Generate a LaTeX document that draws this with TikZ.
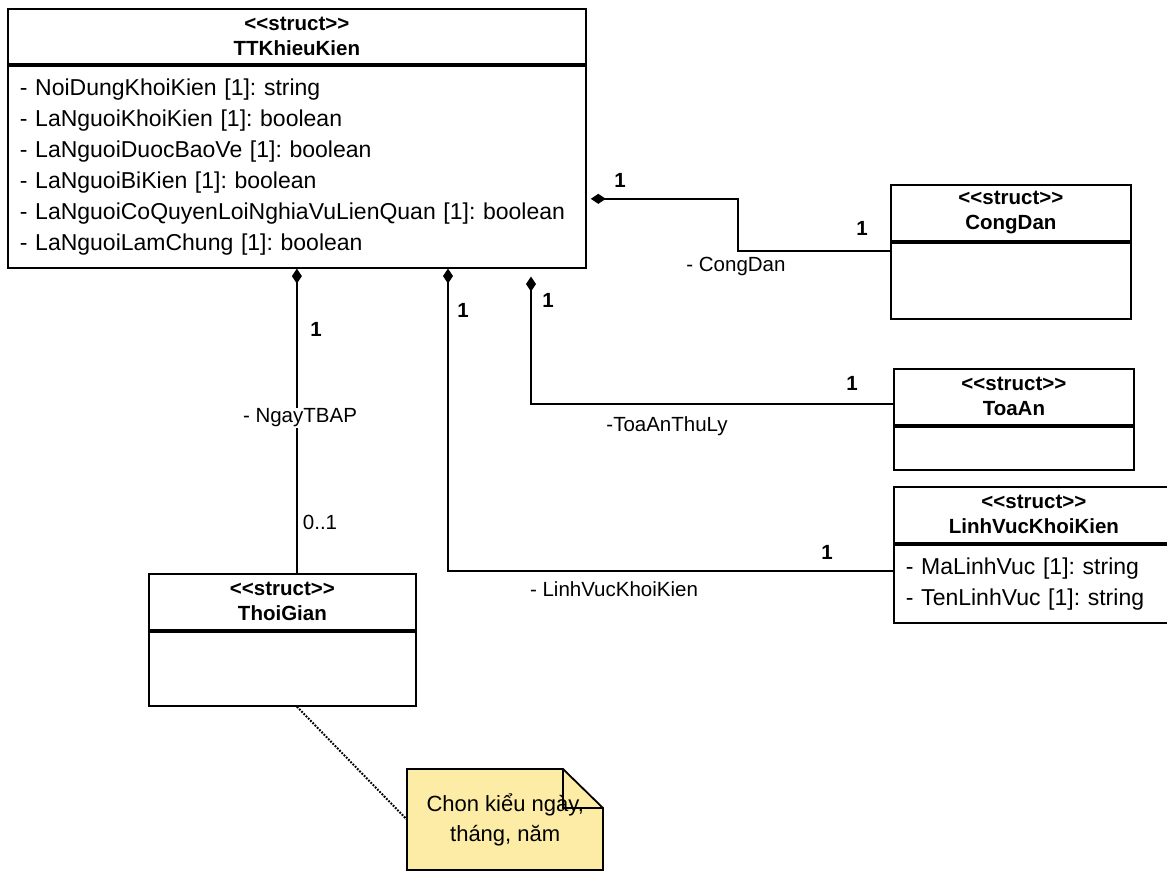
\documentclass[tikz,border=0pt]{standalone}
\usepackage{fontspec}
\setmainfont{Liberation Sans}
\usetikzlibrary{arrows.meta,positioning}
\definecolor{notecol}{RGB}{253,236,166}
\newcommand{\stname}{<{}<struct>{}>}
\frenchspacing

\begin{document}
\begin{tikzpicture}[x=1pt,y=-1pt,
            every node/.style={font=\fontsize{20.5}{25}\selectfont},
            head/.style={draw,line width=1.8pt,anchor=north west,align=center,inner sep=0pt,
              minimum height=56pt,font=\fontsize{20.5}{25}\selectfont\bfseries},
            body/.style={draw,line width=1.8pt,anchor=north west,align=left,inner xsep=12pt,inner ysep=0pt,
              font=\fontsize{23}{31}\selectfont},
            lab/.style={inner sep=1pt},
            mult/.style={lab,font=\fontsize{20.5}{25}\selectfont\bfseries},
            comp/.style={draw,line width=2.2pt,{Diamond[length=15pt,width=10pt]}-},
            dots/.style={draw,line width=2pt,dash pattern=on 1.8pt off 1.4pt},
            notetxt/.style={anchor=north west,minimum width=196pt,minimum height=101pt,align=center,
              inner sep=0pt,font=\fontsize{22}{30}\selectfont}
          ]
          \useasboundingbox (0,0) rectangle (1167,871);

          %classes
          \node[head,minimum width=578pt,minimum height=55pt] (tt) at (7,8) {\stname\\TTKhieuKien};
          \node[body,text width=554pt,minimum height=202pt] (ttb) at (tt.south west)
            {- NoiDungKhoiKien [1]: string\\
             - LaNguoiKhoiKien [1]: boolean\\
             - LaNguoiDuocBaoVe [1]: boolean\\
             - LaNguoiBiKien [1]: boolean\\
             - LaNguoiCoQuyenLoiNghiaVuLienQuan [1]: boolean\\
             - LaNguoiLamChung [1]: boolean};

          \node[head,minimum width=240pt] (cd) at (890,184) {\stname\\CongDan};
          \node[body,text width=216pt,minimum height=76pt] (cdb) at (cd.south west) {};

          \node[head,minimum width=240pt] (ta) at (893,368) {\stname\\ToaAn};
          \node[body,text width=216pt,minimum height=43pt] (tab) at (ta.south west) {};

          \node[head,minimum width=280pt] (lv) at (893,486) {\stname\\LinhVucKhoiKien};
          \node[body,text width=256pt,minimum height=78pt] (lvb) at (lv.south west)
            {- MaLinhVuc [1]: string\\
             - TenLinhVuc [1]: string};

          \node[head,minimum width=267pt] (tg) at (148,573) {\stname\\ThoiGian};
          \node[body,text width=243pt,minimum height=74pt] (tgb) at (tg.south west) {};

          %note
          \coordinate (ntc) at (407,769);
          \draw[line width=1.8pt,fill=notecol] (ntc) -- ++(156,0) -- ++(40,39) -- ++(0,62) -- ++(-196,0) -- cycle;
          \draw[line width=1.8pt] (ntc) ++(156,0) -- ++(0,39) -- ++(40,0);
          \node[notetxt] (nt) at (ntc) {Chon kiểu ngày,\\tháng, năm};

          %links
          \coordinate (cdout) at ([yshift=-134pt]ttb.north east);
          \coordinate (cdin) at ([yshift=-9pt]cdb.north west);
          \coordinate (tgin) at ([xshift=14.5pt]tg.north);
          \coordinate (lvout) at ([xshift=441pt]ttb.south west);
          \coordinate (lvin) at ([yshift=-27pt]lvb.north west);
          \coordinate (taout) at ([xshift=524pt]ttb.south west);
          \coordinate (tain) at ([yshift=-36pt]ta.north west);
          \path[comp,shorten <=4pt] (cdout) -| ([xshift=-152pt]cdin) -- (cdin);
          \path[comp] (tgin |- ttb.south) -- (tgin);
          \path[comp] (lvout) |- (lvin);
          \path[comp,shorten <=8pt] (taout) |- (tain);
          \path[dots] (tgin |- tgb.south) -- (nt.west);

          %labels
          \node[mult] (cd1) at (620,180) {1};
          \node[mult] (cd2) at (862,228) {1};
          \node[lab] (cdr) at (736,266) {- CongDan};
          \node[mult] (tg1) at (316,329) {1};
          \node[lab,fill=white] (tgr) at (300,418) {- NgayTBAP};
          \node[lab] (tg2) at (320,522) {0..1};
          \node[mult] (lv1) at (463,310) {1};
          \node[mult] (lv2) at (827,552) {1};
          \node[lab] (lvr) at (614,589) {- LinhVucKhoiKien};
          \node[mult] (ta1) at (548,300) {1};
          \node[mult] (ta2) at (852,383) {1};
          \node[lab] (tar) at (667,426) {-ToaAnThuLy};

      \end{tikzpicture}
\end{document}
